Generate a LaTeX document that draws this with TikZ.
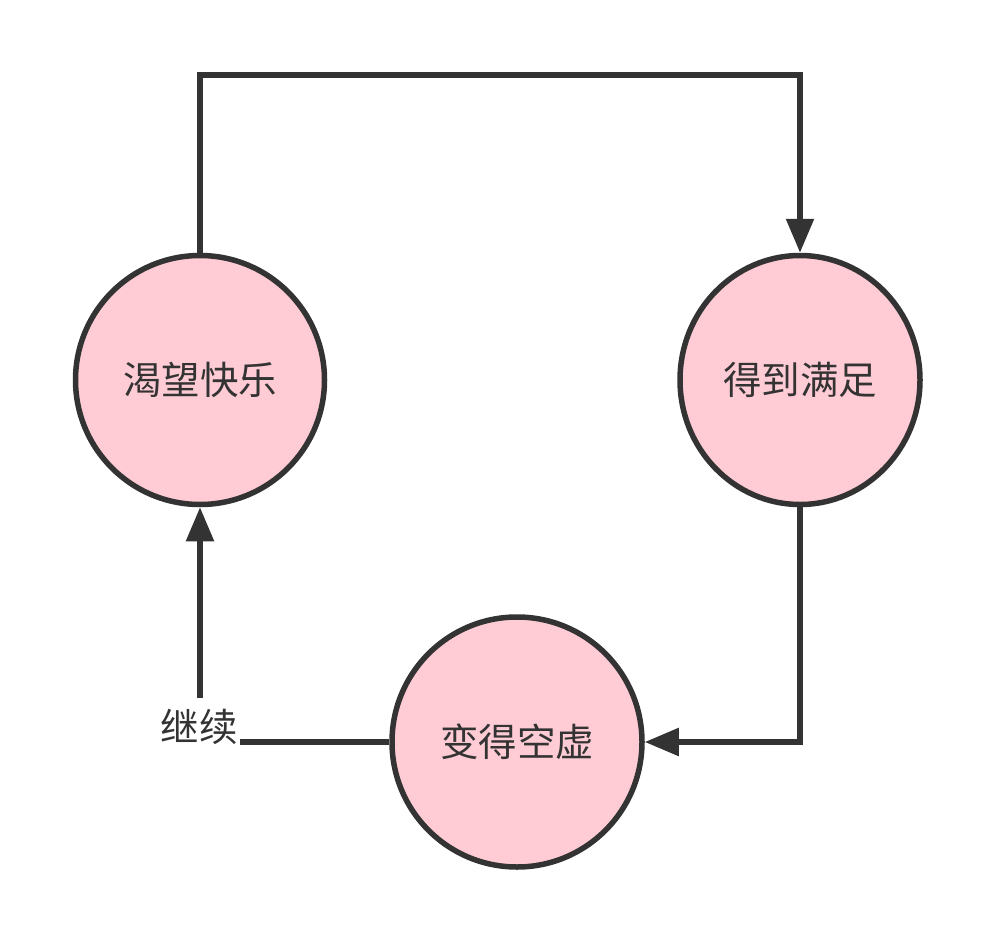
\documentclass[tikz,border=0pt]{standalone}
\usepackage{fontspec}
\setmainfont{Noto Sans CJK SC}
\usetikzlibrary{arrows.meta,shapes.geometric}
\definecolor{stroke}{HTML}{333333}
\definecolor{pinkfill}{HTML}{FFCCD5}
\tikzset{
    state/.style={ellipse, draw=stroke, fill=pinkfill, line width=5.5pt,
        text=stroke, font=\fontsize{38.5}{42}\selectfont, inner sep=0pt},
    link/.style={draw=stroke, line width=5.5pt},
    arr/.style={link, -{Triangle[width=27pt,length=34pt]}}
}
\begin{document}
\begin{tikzpicture}[x=1pt,y=-1pt]
\useasboundingbox (0,0) rectangle (996,942);
\node[state, minimum width=249pt, minimum height=249pt] (want) at (200,380) {渴望快乐};
\node[state, minimum width=240pt, minimum height=249pt] (get) at (800,380) {得到满足};
\node[state, minimum width=250pt, minimum height=250pt] (empty) at (517,742) {变得空虚};
\node[text=stroke, font=\fontsize{38.5}{42}\selectfont, inner sep=0pt] (again) at (199,727) {继续};
\coordinate (againtop) at (200,698);
\coordinate (againright) at (240,742);
% the loop
\draw[arr] (want.north) -- (200,75) -- (800,75) -- (get.north);
\draw[arr] (get.south) -- (800,742) -- (empty.east);
\draw[link] (empty.west) -- (againright);
\draw[arr] (againtop) -- (want.south);
\end{tikzpicture}
\end{document}
